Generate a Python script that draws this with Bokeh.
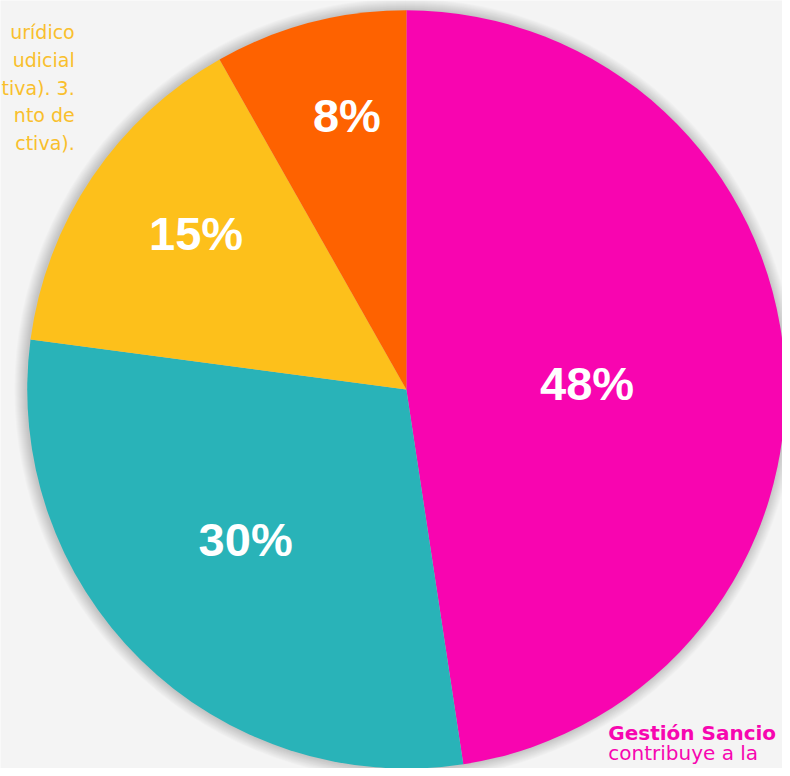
import math
from bokeh.plotting import figure
from bokeh.models import Range1d, ColumnDataSource
from bokeh.core.properties import value
from bokeh.embed import file_html
from bokeh.resources import INLINE

# ---- data ----
categories = ["Gestión Sancionatoria", "Categoría B", "Categoría C", "Categoría D"]
shares = [47.6, 29.5, 14.7, 8.2]
labels = ["48%", "30%", "15%", "8%"]
colors = ["#F805B0", "#29B3B8", "#FDC01B", "#FE6200"]

side_lines = ["urídico", "udicial", "tiva). 3.", "nto de", "ctiva)."]
note_title = "Gestión Sancio"
note_body = "contribuye a la"

# ---- layout / style ----
W, H = 782, 768
CX, CY, R = 410, 383, 383          # data units (reference pixels, y up)
label_r = [0.477, 0.58, 0.69, 0.739]
label_shift_deg = 2.5

p = figure(width=W, height=H, x_range=Range1d(0, 790), y_range=Range1d(0, 776),
           output_backend="svg", toolbar_location=None, min_border=0,
           x_axis_location=None, y_axis_location=None)
p.grid.visible = False
p.outline_line_color = None
p.background_fill_color = "#F4F4F4"
p.border_fill_color = "#F4F4F4"

# soft shadow around the pie
for i in range(12, 0, -1):
    p.circle(x=[CX - 1], y=[CY], radius=R + i, fill_color="#000000",
             fill_alpha=0.017, line_color=None)

total = sum(shares)
starts, ends, lx, ly = [], [], [], []
cum = 0.0
for k, s in enumerate(shares):
    a0 = cum / total
    cum += s
    a1 = cum / total
    # clockwise from 12 o'clock
    starts.append(math.pi / 2 - 2 * math.pi * a1)
    ends.append(math.pi / 2 - 2 * math.pi * a0)
    mid = 2 * math.pi * (a0 + a1) / 2 + math.radians(label_shift_deg)
    r = label_r[k] * R
    lx.append(CX + r * math.sin(mid))
    ly.append(CY + r * math.cos(mid))

src = ColumnDataSource(dict(cat=categories, start=starts, end=ends, color=colors,
                            lx=lx, ly=ly, label=labels))
p.wedge(x=CX, y=CY, radius=R, start_angle="start", end_angle="end",
        fill_color="color", line_color=None, source=src)

p.text(x="lx", y="ly", text="label", source=src, text_color="white",
       text_font=value("Liberation Sans"), text_font_style="bold", text_font_size="47px",
       text_align="center", text_baseline="middle")

# side text (top-left, yellow)
side_y = [776 - b for b in [32, 60, 88, 116, 144]]
p.text(x=[75] * len(side_lines), y=side_y, text=side_lines, text_color="#F9BF2C",
       text_font=value("DejaVu Sans"), text_font_size="19px",
       text_align="right", text_baseline="alphabetic")

# bottom-right note (pink)
p.text(x=[614], y=[776 - 740], text=[note_title], text_color="#F706B0",
       text_font=value("DejaVu Sans"), text_font_style="bold", text_font_size="20px",
       text_align="left", text_baseline="alphabetic")
p.text(x=[614], y=[776 - 760], text=[note_body], text_color="#F706B0",
       text_font=value("DejaVu Sans"), text_font_size="20px",
       text_align="left", text_baseline="alphabetic")

open("out.html", "w").write(file_html(p, INLINE))
